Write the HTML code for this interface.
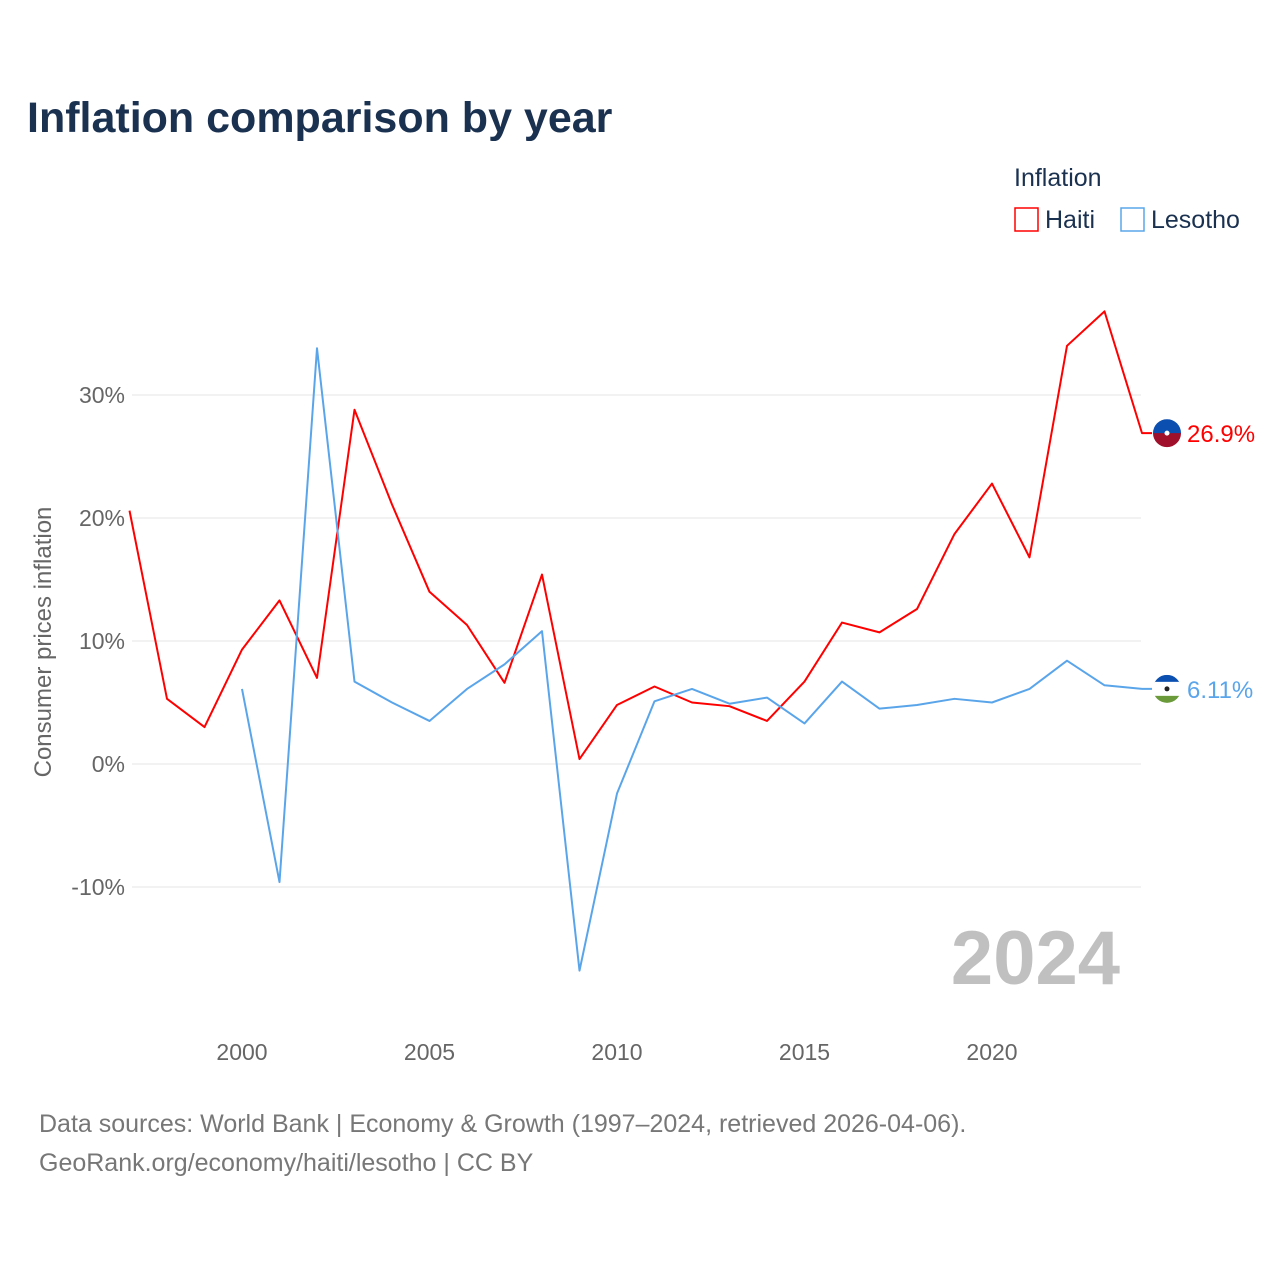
<!DOCTYPE html>
<html><head><meta charset="utf-8"><style>
body{margin:0;background:#fff;font-family:"Liberation Sans",sans-serif}
svg text{font-family:"Liberation Sans",sans-serif}
</style></head><body>
<svg id="chart" width="1280" height="1280" viewBox="0 0 1280 1280" xmlns="http://www.w3.org/2000/svg">
<rect width="1280" height="1280" fill="#fff"/>
<text x="27" y="132" font-size="43" font-weight="bold" fill="#1a3150">Inflation comparison by year</text>
<text x="1014" y="186" font-size="25" fill="#1a3150">Inflation</text>
<g><rect x="1015" y="208" width="23" height="23" fill="none" stroke="#f00" stroke-width="1.5"/><text x="1045" y="228" font-size="25" fill="#1a3150">Haiti</text></g>
<g><rect x="1121" y="208" width="23" height="23" fill="none" stroke="#5aa5ea" stroke-width="1.5"/><text x="1151" y="228" font-size="25" fill="#1a3150">Lesotho</text></g>
<g id="grid"></g><g id="xaxis"></g><g id="series"></g>
<text transform="translate(51,642) rotate(-90)" text-anchor="middle" font-size="24" fill="#666">Consumer prices inflation</text>
<text x="1120" y="984" text-anchor="end" font-size="76" font-weight="bold" fill="#c0c0c0">2024</text>
<text x="39" y="1132" font-size="25" fill="#777">Data sources: World Bank | Economy &amp; Growth (1997–2024, retrieved 2026-04-06).</text>
<text x="39" y="1171" font-size="25" fill="#777">GeoRank.org/economy/haiti/lesotho | CC BY</text>
</svg>
<script>
const years=[1997,1998,1999,2000,2001,2002,2003,2004,2005,2006,2007,2008,2009,2010,2011,2012,2013,2014,2015,2016,2017,2018,2019,2020,2021,2022,2023,2024];
const haiti=[20.6,5.3,3.0,9.3,13.3,7.0,28.8,21.1,14.0,11.3,6.6,15.4,0.4,4.8,6.3,5.0,4.7,3.5,6.7,11.5,10.7,12.6,18.7,22.8,16.8,34.0,36.8,26.9];
const lesotho=[null,null,null,6.1,-9.6,33.8,6.7,5.0,3.5,6.1,8.1,10.8,-16.8,-2.4,5.1,6.1,4.9,5.4,3.3,6.7,4.5,4.8,5.3,5.0,6.1,8.4,6.4,6.11];
const yTicks=[-10,0,10,20,30];
const yTickLabels=["-10%","0%","10%","20%","30%"];
const xTicks=[2000,2005,2010,2015,2020];
const x=v=>242+(v-2000)*37.5;
const y=v=>764-v*12.3;
const NS="http://www.w3.org/2000/svg";
function mk(t,a,p){const e=document.createElementNS(NS,t);for(const k in a)e.setAttribute(k,a[k]);p.appendChild(e);return e;}
const g=document.getElementById('grid');
yTicks.forEach((t,i)=>{
 const l=mk('line',{x1:132,x2:1141,y1:y(t),y2:y(t),stroke:'#e6e6e6','stroke-width':1},g);
 
 
 const tx=mk('text',{x:125,y:y(t)+8,'text-anchor':'end','font-size':23,fill:'#666'},g);
 
 
 tx.textContent=yTickLabels[i];
});
const xa=document.getElementById('xaxis');
xTicks.forEach(t=>{
 const tx=mk('text',{x:x(t),y:1060,'text-anchor':'middle','font-size':23,fill:'#666'},xa);
 
 
 tx.textContent=t;
});
const s=document.getElementById('series');
function line(vals,color,name,label,flag){
 let d='';let last=null;
 vals.forEach((v,i)=>{if(v===null)return;d+=(d?'L':'M')+x(years[i])+','+y(v);last=v;});
 d+='H'+(x(2024)+10);
 const p=mk('path',{d:d,fill:'none',stroke:color,'stroke-width':2,'stroke-linejoin':'round'},s);
 
 
 const cy=y(last),cx=1167;
 const fg=mk('g',{},s);
 
 
 mk('clipPath',{id:'c'+name},fg);
 mk('circle',{cx:cx,cy:cy,r:14},fg.lastChild);
 const cg=mk('g',{'clip-path':'url(#c'+name+')'},fg);
 flag.forEach((c,i)=>mk('rect',{x:cx-14,y:cy-14+i*28/flag.length,width:28,height:28/flag.length+0.5,fill:c},cg));
 mk('circle',{cx:cx,cy:cy,r:2.5,fill:name==='haiti'?'#fff':'#222'},fg);
 const t=mk('text',{x:1187,y:cy+9,'font-size':24,fill:color},s);
 
 
 t.textContent=label;
}
line(haiti,'#ff0000','haiti','26.9%',['#0b4fb0','#a0102a']);
line(lesotho,'#5aa5ea','lesotho','6.11%',['#0b4fb0','#ffffff','#ffffff','#6a9a3a']);
</script>
</body></html>
